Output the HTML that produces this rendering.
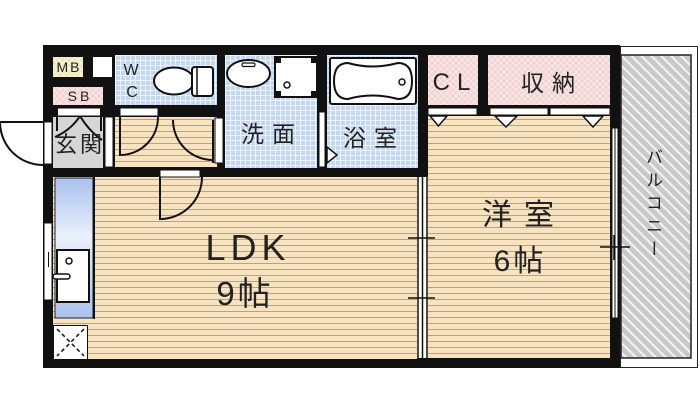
<!DOCTYPE html>
<html><head><meta charset="utf-8">
<style>
html,body{margin:0;padding:0;background:#fff;}
#wrap{position:relative;width:700px;height:415px;overflow:hidden;}
svg{position:absolute;left:0;top:0;}
.vt{position:absolute;left:642px;top:148px;writing-mode:vertical-rl;text-orientation:upright;font-family:"Liberation Sans","Noto Sans CJK JP",sans-serif;font-size:17px;letter-spacing:6px;color:#222;line-height:20px;}
</style></head>
<body><div id="wrap">
<svg width="700" height="415" viewBox="0 0 700 415" xmlns="http://www.w3.org/2000/svg">
<defs>
<pattern id="tile" width="5" height="5" patternUnits="userSpaceOnUse">
<rect width="5" height="5" fill="#c4d7f1"/>
<path d="M0 0.5H5M0.5 0V5" stroke="#eef4fd" stroke-width="1"/>
</pattern>
<pattern id="pink" width="6" height="6" patternUnits="userSpaceOnUse">
<rect width="6" height="6" fill="#f2d2d2"/>
<path d="M0 0L6 6M6 0L0 6" stroke="#fbeaea" stroke-width="1"/>
</pattern>
<pattern id="yel" width="6" height="6" patternUnits="userSpaceOnUse">
<rect width="6" height="6" fill="#ece6b8"/>
<path d="M0 0L6 6M6 0L0 6" stroke="#f8f5dc" stroke-width="1"/>
</pattern>
<pattern id="wood" width="6" height="6" patternUnits="userSpaceOnUse">
<rect width="6" height="6" fill="#f8e3c0"/>
<rect y="5" width="6" height="1" fill="#bfa078"/>
</pattern>
<pattern id="hatch" width="7" height="7" patternUnits="userSpaceOnUse" patternTransform="rotate(-45)">
<rect width="7" height="7" fill="#c9c9c9"/>
<rect x="0" y="0" width="2" height="7" fill="#f4f4f4"/>
</pattern>
<linearGradient id="kit" x1="0" y1="0" x2="0" y2="1">
<stop offset="0" stop-color="#a9c2ef"/>
<stop offset="0.42" stop-color="#eaf0fb"/>
<stop offset="1" stop-color="#a9c2ef"/>
</linearGradient>
</defs>

<!-- balcony -->
<rect x="620.5" y="46.5" width="77" height="321" fill="#fff" stroke="#222" stroke-width="1"/>
<rect x="621" y="55" width="70" height="303" fill="url(#hatch)" stroke="#222" stroke-width="1.5"/>

<!-- building black -->
<rect x="43" y="45" width="577" height="323" fill="#111"/>

<!-- MB, small box, SB -->
<rect x="53" y="57" width="30" height="20" fill="url(#yel)"/>
<rect x="93" y="57" width="19" height="20" fill="#fff"/>
<rect x="53" y="87" width="50" height="18" fill="url(#pink)"/>

<!-- entrance -->
<rect x="53" y="117" width="50" height="51" fill="#d6d6d6"/>
<rect x="56" y="108" width="46" height="8" fill="#fff" stroke="#111" stroke-width="1"/>
<path d="M57 108V131M101 108V131" stroke="#111" stroke-width="2"/>
<path d="M80 116Q71 130 55 137M80 116Q89 131 102 140" stroke="#111" stroke-width="2" fill="none"/>
<!-- entrance outer door -->
<rect x="44" y="122" width="8" height="42" fill="#fff" stroke="#111" stroke-width="1"/>
<path d="M43 122H0M0 122A43 43 0 0 0 43 165" stroke="#111" stroke-width="2" fill="none"/>

<!-- wall strip between entrance and hall -->
<rect x="105" y="117" width="8" height="50" fill="#fff" stroke="#111" stroke-width="1"/>

<!-- WC -->
<rect x="115" y="55" width="102" height="50" fill="url(#tile)"/>
<ellipse cx="174" cy="81" rx="20" ry="13.5" fill="#fff" stroke="#111" stroke-width="2"/>
<rect x="192" y="67" width="21" height="29" rx="3" fill="#fff" stroke="#111" stroke-width="2"/>
<path d="M197 68V95" stroke="#111" stroke-width="1.5"/>

<!-- hall -->
<rect x="115" y="117" width="102" height="50" fill="url(#wood)"/>
<rect x="120" y="108" width="38" height="8" fill="#fff" stroke="#111" stroke-width="1"/>
<path d="M120 117V155A38 38 0 0 0 158 117" stroke="#111" stroke-width="2" fill="none"/>
<rect x="215" y="118" width="8" height="45" fill="#fff" stroke="#111" stroke-width="1"/>
<path d="M213 120V163M173 120A40 40 0 0 0 213 160" stroke="#111" stroke-width="2" fill="none"/>

<!-- washroom -->
<rect x="225" y="55" width="92" height="113" fill="url(#tile)"/>
<ellipse cx="248.5" cy="73.5" rx="21.5" ry="13.5" fill="#fff" stroke="#111" stroke-width="2"/>
<rect x="242" y="63" width="13" height="3.5" rx="1.5" fill="#fff" stroke="#111" stroke-width="1.2"/>
<rect x="275" y="57" width="42" height="40" fill="#fff" stroke="#111" stroke-width="2"/>
<rect x="276" y="58" width="5" height="5" fill="#111"/>
<rect x="311" y="58" width="5" height="5" fill="#111"/>
<rect x="276" y="91" width="5" height="5" fill="#111"/>
<rect x="311" y="91" width="5" height="5" fill="#111"/>
<circle cx="287" cy="85" r="3" fill="#fff" stroke="#111" stroke-width="1.5"/>
<rect x="319" y="112" width="6" height="55" fill="#fff" stroke="#111" stroke-width="1"/>

<!-- bathroom -->
<rect x="327" y="55" width="91" height="113" fill="url(#tile)"/>
<path d="M327 147L337 155L327 163Z" fill="#fff" stroke="#111" stroke-width="1.5"/>
<rect x="330" y="58" width="86" height="46" rx="2" fill="#fff" stroke="#111" stroke-width="2"/>
<path d="M348 63Q372 70 398 63Q412 63 412 81Q412 99 398 99Q372 92 348 99Q334 99 334 81Q334 63 348 63Z" fill="#fff" stroke="#111" stroke-width="2"/>
<circle cx="402" cy="82" r="3" fill="#fff" stroke="#111" stroke-width="1.5"/>

<!-- CL & storage -->
<rect x="428" y="55" width="50" height="50" fill="url(#pink)"/>
<rect x="488" y="55" width="122" height="50" fill="url(#pink)"/>

<!-- western room -->
<rect x="428" y="116" width="182" height="242" fill="url(#wood)"/>
<rect x="428" y="108" width="49" height="7" fill="#fff" stroke="#111" stroke-width="1"/>
<rect x="490" y="108" width="58" height="7" fill="#fff" stroke="#111" stroke-width="1"/>
<rect x="550" y="108" width="60" height="7" fill="#fff" stroke="#111" stroke-width="1"/>
<path d="M430 116H447L438.5 126Z" fill="#fff" stroke="#111" stroke-width="1.5"/>
<path d="M495 116H517L506 127Z" fill="#fff" stroke="#111" stroke-width="1.5"/>
<path d="M583 116H603L593 127Z" fill="#fff" stroke="#111" stroke-width="1.5"/>
<!-- right window -->
<rect x="612" y="128" width="6" height="190" fill="#fff" stroke="#111" stroke-width="1"/>
<path d="M615 128V318" stroke="#111" stroke-width="1"/>
<path d="M600 247H630M614 235V260" stroke="#111" stroke-width="1.5"/>

<!-- LDK -->
<rect x="53" y="177" width="364" height="182" fill="url(#wood)"/>
<rect x="160" y="170" width="40" height="7" fill="#fff" stroke="#111" stroke-width="1"/>
<path d="M160 177V219A42 42 0 0 0 202 177" stroke="#111" stroke-width="2" fill="none"/>
<!-- kitchen -->
<rect x="55" y="178" width="38" height="140" fill="url(#kit)" stroke="#222" stroke-width="1"/>
<rect x="93" y="177" width="2" height="142" fill="#111"/>
<rect x="57" y="250" width="32" height="52" fill="#fff" stroke="#111" stroke-width="2"/>
<circle cx="69" cy="261" r="3" fill="#fff" stroke="#111" stroke-width="1.5"/>
<rect x="53" y="274" width="17" height="5" rx="2.5" fill="#fff" stroke="#111" stroke-width="1.5"/>
<!-- left window -->
<rect x="44" y="223" width="8" height="77" fill="#fff" stroke="#111" stroke-width="1"/>
<path d="M48.5 252V267" stroke="#111" stroke-width="1"/>
<!-- X box -->
<rect x="53.5" y="325.5" width="34" height="34" fill="#fff" stroke="#111" stroke-width="1"/>
<path d="M57 329L84 356M84 329L57 356" stroke="#111" stroke-width="1.5" stroke-dasharray="4 3"/>

<!-- partition -->
<rect x="417" y="177" width="11" height="181" fill="#fff"/>
<path d="M418 177V358M422.5 177V358M427 177V358" stroke="#111" stroke-width="1.5"/>
<path d="M408 238H435M408 298H435" stroke="#111" stroke-width="1.5"/>

<!-- labels -->
<g font-family="Liberation Sans, Noto Sans CJK JP, sans-serif" fill="#222" text-anchor="middle">
<text x="69" y="72" font-size="14" letter-spacing="2">MB</text>
<text x="80" y="101" font-size="14" letter-spacing="3">SB</text>
<text x="131" y="75" font-size="16">W</text>
<text x="132" y="97" font-size="16">C</text>
<text x="80" y="152" font-size="22" letter-spacing="3">玄関</text>
<text x="272" y="142" font-size="23" letter-spacing="8">洗面</text>
<text x="374" y="146" font-size="23" letter-spacing="8">浴室</text>
<text x="455" y="90" font-size="24" letter-spacing="7">CL</text>
<text x="552" y="91" font-size="23" letter-spacing="8">収納</text>
<text x="524" y="225" font-size="30" letter-spacing="12">洋室</text>
<text x="520" y="271" font-size="30" letter-spacing="3">6帖</text>
<text x="248" y="260" font-size="36" letter-spacing="5">LDK</text>
<text x="245" y="305" font-size="33" letter-spacing="3">9帖</text>
</g>
</svg>
<div class="vt">バルコニー</div>
</div></body></html>
